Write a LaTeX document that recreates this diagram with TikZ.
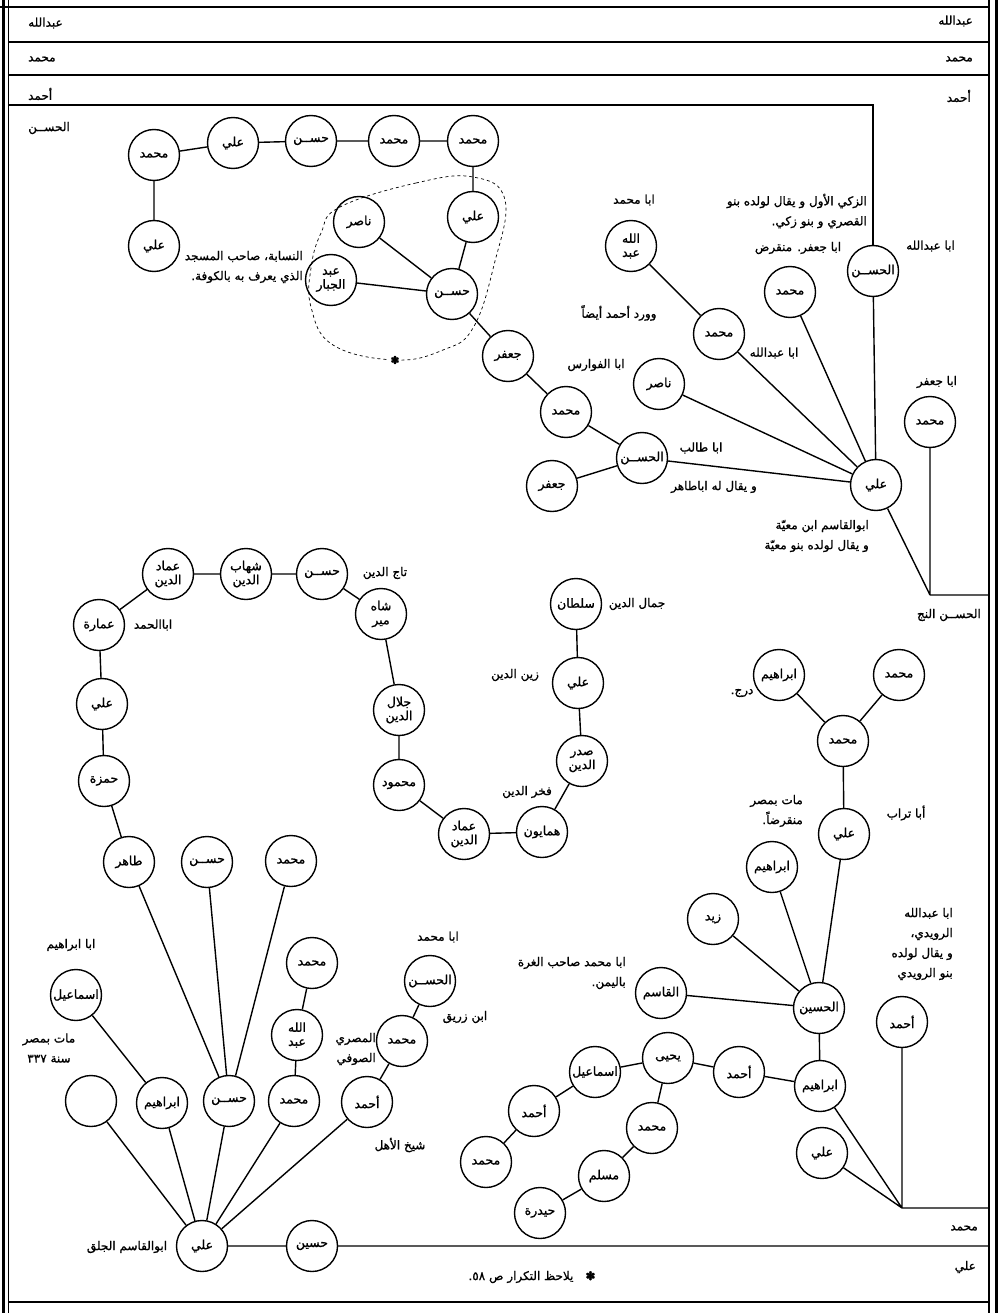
\documentclass[tikz,border=0pt]{standalone}
\usepackage{fontspec}
\newfontfamily\arabicfont[Script=Arabic,FakeBold=1.2]{DejaVu Sans}
\TeXXeTstate=1
\newcommand{\rl}[1]{\beginR#1\endR}

\begin{document}
\begin{tikzpicture}
	[x=1pt,y=-1pt,
	person/.style={circle,draw,line width=1.4pt,minimum size=51pt,inner sep=0pt,align=center,font=\arabicfont\fontsize{12.5}{14}\selectfont},
	note/.style={inner sep=0pt,align=right,font=\arabicfont\fontsize{12}{20}\selectfont},
	link/.style={line width=1.4pt},
	rule/.style={line width=1.3pt}]
	\useasboundingbox (0,0) rectangle (998,1313);

	% frame and generation rules
	\draw[line width=3pt] (3,0) -- (3,1313);
	\draw[line width=3pt] (996,0) -- (996,1313);
	\draw[rule] (8.5,0) -- (8.5,1313);
	\draw[rule] (989,0) -- (989,1313);
	\draw[rule] (0,7) -- (989,7);
	\draw[rule] (8.5,42) -- (989,42);
	\draw[rule] (8.5,75) -- (989,75);
	\draw[rule] (8.5,1302) -- (989,1302);

	\node[note,anchor=east] (rAbd) at (973,21) {\rl{عبدالله}};
	\node[note,anchor=east] (rMuh) at (973,59) {\rl{محمد}};
	\node[note,anchor=east] (rAhm) at (971,96) {\rl{أحمد}};
	\node[note,anchor=west] (lAbd) at (28,23) {\rl{عبدالله}};
	\node[note,anchor=west] (lMuh) at (28,59) {\rl{محمد}};
	\node[note,anchor=west] (lAhm) at (28,94) {\rl{أحمد}};
	\node[note,anchor=west] (lHas) at (28,128) {\rl{الحســن}};

	% top chain
	\node[person] (a1) at (473,141) {\rl{محمد}};
	\node[person] (a2) at (394,141) {\rl{محمد}};
	\node[person] (a3) at (311,141) {\rl{حســن}};
	\node[person] (a4) at (233,143) {\rl{علي}};
	\node[person] (a5) at (154,155) {\rl{محمد}};
	\node[person] (a6) at (154,246) {\rl{علي}};

	% group in the dashed loop
	\node[person] (b1) at (473,217) {\rl{علي}};
	\node[person] (b2) at (359,222) {\rl{ناصر}};
	\node[person] (b3) at (452,294) {\rl{حســن}};
	\node[person] (b4) at (331,280) {\rl{عبد}\\\rl{الجبار}};
	\node[note,anchor=east] (b4n) at (303,267) {\rl{النسابة، صاحب المسجد}\\\rl{الذي يعرف به بالكوفة.}};
	\draw[dashed,line width=0.7pt] plot[smooth cycle,tension=0.7] coordinates
		{(340,207) (416,183) (473,177) (505,200) (494,265) (473,328) (443,350) (395,360) (333,345) (311,307) (311,268) (321,233)};
	\node[fill=white,inner sep=1pt,font=\arabicfont\fontsize{11}{11}\selectfont] (star) at (395,360) {✽};

	% line of abu al-fawaris
	\node[person] (c1) at (508,356) {\rl{جعفر}};
	\node[person] (c2) at (566,412) {\rl{محمد}};
	\node[person] (c3) at (642,458) {\rl{الحســن}};
	\node[person] (c4) at (552,486) {\rl{جعفر}};
	\node[note] at (596,365) {\rl{ابا الفوارس}};
	\node[note] at (701,448) {\rl{ابا طالب}};
	\node[note] at (714,487) {\rl{و يقال له اباطاهر}};

	% sons of ali ibn mu'iyya
	\node[person] (d0) at (876,485) {\rl{علي}};
	\node[person] (d1) at (659,384) {\rl{ناصر}};
	\node[person] (d2) at (719,334) {\rl{محمد}};
	\node[person] (d3) at (631,246) {\rl{الله}\\\rl{عبد}};
	\node[person] (d4) at (790,292) {\rl{محمد}};
	\node[person] (d5) at (873,271) {\rl{الحســن}};
	\node[person] (d6) at (930,422) {\rl{محمد}};
	\node[note] at (634,200) {\rl{ابا محمد}};
	\node[note] at (619,313) {\rl{وورد أحمد أيضاً}};
	\node[note] at (774,353) {\rl{ابا عبدالله}};
	\node[note] at (798,248) {\rl{ابا جعفر. منقرض}};
	\node[note,anchor=east] at (867,211) {\rl{الزكي الأول و يقال لولده بنو}\\\rl{القصري و بنو زكي.}};
	\node[note,anchor=east] at (955,246) {\rl{ابا عبدالله}};
	\node[note] at (937,382) {\rl{ابا جعفر}};
	\node[note,anchor=east] at (869,536) {\rl{ابوالقاسم ابن معيّة}\\\rl{و يقال لولده بنو معيّة}};
	\node[note,anchor=east] at (981,615) {\rl{الحســن النج}};
	\coordinate (ahmL) at (8.5,105);
	\coordinate (ahmC) at (873,105);
	\coordinate (j1) at (930,595);
	\coordinate (j1R) at (989,595);

	% chain of the dins
	\node[person] (e1) at (322,574) {\rl{حســن}};
	\node[person] (e2) at (246,574) {\rl{شهاب}\\\rl{الدين}};
	\node[person] (e3) at (168,574) {\rl{عماد}\\\rl{الدين}};
	\node[person] (e4) at (99,625) {\rl{عمارة}};
	\node[person] (e5) at (102,704) {\rl{علي}};
	\node[person] (e6) at (104,781) {\rl{حمزة}};
	\node[person] (e7) at (129,862) {\rl{طاهر}};
	\node[person] (e8) at (381,614) {\rl{شاه}\\\rl{مير}};
	\node[person] (e9) at (399,710) {\rl{جلال}\\\rl{الدين}};
	\node[person] (e10) at (399,785) {\rl{محمود}};
	\node[person] (e11) at (464,834) {\rl{عماد}\\\rl{الدين}};
	\node[person] (e12) at (542,832) {\rl{همايون}};
	\node[person] (e13) at (582,761) {\rl{صدر}\\\rl{الدين}};
	\node[person] (e14) at (578,683) {\rl{علي}};
	\node[person] (e15) at (576,604) {\rl{سلطان}};
	\node[note] at (385,573) {\rl{تاج الدين}};
	\node[note] at (153,625) {\rl{اباالحمد}};
	\node[note] at (637,604) {\rl{جمال الدين}};
	\node[note] at (515,675) {\rl{زين الدين}};
	\node[note] at (527,792) {\rl{فخر الدين}};

	% sons of ali abu al-qasim al-jalaq
	\node[person] (f0) at (202,1246) {\rl{علي}};
	\node[person] (f1) at (207,862) {\rl{حســن}};
	\node[person] (f2) at (291,861) {\rl{محمد}};
	\node[person] (f3) at (229,1101) {\rl{حســن}};
	\node[person] (f4) at (162,1103) {\rl{ابراهيم}};
	\node[person] (f5) at (91,1101) {};
	\node[person] (f6) at (76,995) {\rl{اسماعيل}};
	\node[person] (f7) at (294,1101) {\rl{محمد}};
	\node[person] (f8) at (297,1035) {\rl{الله}\\\rl{عبد}};
	\node[person] (f9) at (312,963) {\rl{محمد}};
	\node[person] (f10) at (367,1102) {\rl{أحمد}};
	\node[person] (f11) at (402,1041) {\rl{محمد}};
	\node[person] (f12) at (430,981) {\rl{الحســن}};
	\node[person] (f13) at (312,1246) {\rl{حسين}};
	\node[note] at (71,945) {\rl{ابا ابراهيم}};
	\node[note,align=center] at (49,1048) {\rl{مات بمصر}\\\rl{سنة ٣٣٧}};
	\node[note] at (438,937) {\rl{ابا محمد}};
	\node[note] at (465,1017) {\rl{ابن زريق}};
	\node[note,anchor=east] at (376,1049) {\rl{المصري}\\\rl{الصوفي}};
	\node[note] at (400,1145) {\rl{شيخ الأهل}};
	\node[note] at (127,1247) {\rl{ابوالقاسم الجلق}};
	\coordinate (aliR) at (989,1246);

	% sons of al-husayn
	\node[person] (g1) at (779,675) {\rl{ابراهيم}};
	\node[person] (g2) at (899,675) {\rl{محمد}};
	\node[person] (g3) at (843,741) {\rl{محمد}};
	\node[person] (g4) at (844,834) {\rl{علي}};
	\node[person] (g5) at (772,867) {\rl{ابراهيم}};
	\node[person] (g6) at (713,919) {\rl{زيد}};
	\node[person] (g7) at (661,993) {\rl{القاسم}};
	\node[person] (g8) at (819,1008) {\rl{الحسين}};
	\node[person] (g9) at (820,1086) {\rl{ابراهيم}};
	\node[person] (g10) at (739,1072) {\rl{أحمد}};
	\node[person] (g11) at (668,1058) {\rl{يحيى}};
	\node[person] (g12) at (595,1072) {\rl{اسماعيل}};
	\node[person] (g13) at (534,1111) {\rl{أحمد}};
	\node[person] (g14) at (486,1162) {\rl{محمد}};
	\node[person] (g15) at (652,1128) {\rl{محمد}};
	\node[person] (g16) at (604,1176) {\rl{مسلم}};
	\node[person] (g17) at (540,1213) {\rl{حيدرة}};
	\node[person] (g18) at (822,1153) {\rl{علي}};
	\node[person] (g19) at (902,1022) {\rl{أحمد}};
	\node[note] at (742,693) {\rl{درج.}};
	\node[note,anchor=east] at (803,811) {\rl{مات بمصر}\\\rl{منقرضاً.}};
	\node[note] at (906,813) {\rl{أبا تراب}};
	\node[note,anchor=east] at (953,944) {\rl{ابا عبدالله}\\\rl{الرويدي،}\\\rl{و يقال لولده}\\\rl{بنو الرويدي}};
	\node[note,anchor=east] at (626,973) {\rl{ابا محمد صاحب الغرة}\\\rl{باليمن.}};
	\node[note,anchor=east] at (978,1228) {\rl{محمد}};
	\node[note,anchor=east] at (976,1267) {\rl{علي}};
	\coordinate (j2) at (902,1208);
	\coordinate (j2R) at (989,1208);

	\node[note] (foot) at (532,1277) {\rl{✽\quad يلاحظ التكرار ص ٥٨.}};

	% connectors
	\draw[link] (a1) -- (a2) (a2) -- (a3) (a3) -- (a4) (a4) -- (a5) (a5) -- (a6) (a1) -- (b1);
	\draw[link] (b1) -- (b3) (b2) -- (b3) (b4) -- (b3) (b3) -- (c1);
	\draw[link] (c1) -- (c2) (c2) -- (c3) (c3) -- (c4) (c3) -- (d0);
	\draw[link] (d0) -- (d1) (d0) -- (d2) (d2) -- (d3) (d0) -- (d4) (d0) -- (d5);
	\draw[link] (d5) -- (ahmC) -- (ahmL);
	\draw[link] (d6) -- (j1) (d0) -- (j1) (j1) -- (j1R);
	\draw[link] (e15) -- (e14) (e14) -- (e13) (e13) -- (e12) (e12) -- (e11) (e11) -- (e10) (e10) -- (e9) (e9) -- (e8) (e8) -- (e1) (e1) -- (e2) (e2) -- (e3) (e3) -- (e4) (e4) -- (e5) (e5) -- (e6) (e6) -- (e7);
	\draw[link] (e7) -- (f3) (f1) -- (f3) (f2) -- (f3);
	\draw[link] (f0) -- (f5) (f0) -- (f4) (f0) -- (f3) (f0) -- (f7) (f0) -- (f10) (f0) -- (f13) (f13) -- (aliR);
	\draw[link] (f4) -- (f6) (f7) -- (f8) (f8) -- (f9) (f10) -- (f11) (f11) -- (f12);
	\draw[link] (g1) -- (g3) (g2) -- (g3) (g3) -- (g4) (g4) -- (g8) (g5) -- (g8) (g6) -- (g8) (g7) -- (g8);
	\draw[link] (g8) -- (g9) (g9) -- (g10) (g10) -- (g11) (g11) -- (g12) (g12) -- (g13) (g13) -- (g14);
	\draw[link] (g11) -- (g15) (g15) -- (g16) (g16) -- (g17);
	\draw[link] (g9) -- (j2) (g18) -- (j2) (g19) -- (j2) (j2) -- (j2R);
\end{tikzpicture}
\end{document}
